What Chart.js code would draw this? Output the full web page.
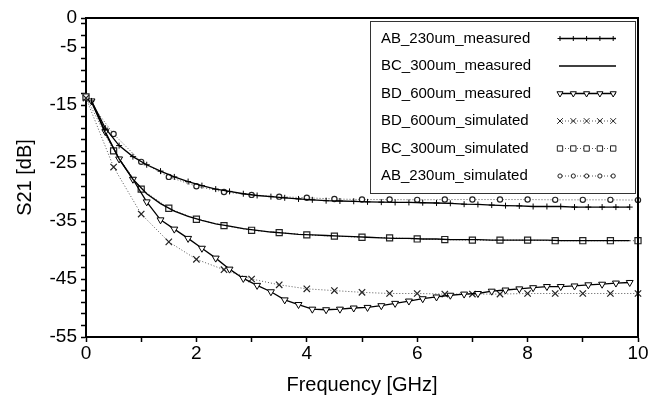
<!DOCTYPE html>
<html>
<head>
<meta charset="utf-8">
<script src="https://cdn.jsdelivr.net/npm/chart.js@4/dist/chart.umd.min.js"></script>
<style>body{margin:0;background:#fff}</style>
</head>
<body>
<canvas id="myChart" width="663" height="404"></canvas>
<script>

// frequency grids [GHz]
var measFreq = [0.1, 0.35, 0.6, 0.85, 1.1, 1.35, 1.6, 1.85, 2.1, 2.35, 2.6, 2.85, 3.1, 3.35, 3.6, 3.85,
    4.1, 4.35, 4.6, 4.85, 5.1, 5.35, 5.6, 5.85, 6.1, 6.35, 6.6, 6.85, 7.1, 7.35, 7.6, 7.85,
    8.1, 8.35, 8.6, 8.85, 9.1, 9.35, 9.6, 9.85];
var simFreq = [0, 0.5, 1, 1.5, 2, 2.5, 3, 3.5, 4, 4.5, 5, 5.5, 6, 6.5, 7, 7.5, 8, 8.5, 9, 9.5, 10];

// S21 [dB]
var abMeasured = [-14.3, -19.0, -22.0, -23.9, -25.3, -26.4, -27.4, -28.2, -28.9, -29.5, -29.9, -30.3, -30.6, -30.8, -31.0, -31.2,
    -31.35, -31.5, -31.55, -31.6, -31.7, -31.75, -31.8, -31.8, -31.85, -31.9, -31.95, -32.1, -32.15, -32.25, -32.35, -32.4,
    -32.5, -32.5, -32.5, -32.6, -32.6, -32.6, -32.6, -32.6];
var bcMeasured = [-14.5, -19.8, -24.3, -27.8, -30.3, -32.0, -33.3, -34.2, -34.9, -35.5, -35.9, -36.3, -36.6, -36.9, -37.1, -37.3,
    -37.4, -37.5, -37.6, -37.7, -37.8, -37.9, -38.0, -38.0, -38.1, -38.1, -38.2, -38.2, -38.2, -38.3, -38.3, -38.3,
    -38.3, -38.3, -38.4, -38.4, -38.4, -38.4, -38.4, -38.4];
var bdMeasured = [-14.3, -19.6, -24.3, -27.8, -31.7, -34.8, -36.4, -38.0, -39.7, -41.4, -43.3, -44.9, -46.1, -47.2, -48.6, -49.4,
    -50.2, -50.3, -50.2, -50.0, -49.9, -49.6, -49.2, -48.8, -48.4, -48.1, -47.8, -47.6, -47.5, -47.1, -46.9, -46.7,
    -46.5, -46.3, -46.3, -46.2, -46.0, -45.9, -45.7, -45.6];
var bdSimulated = [-13.8, -25.7, -33.8, -38.6, -41.6, -43.4, -45.0, -46.0, -46.7, -47.0, -47.3, -47.5, -47.5, -47.6, -47.6, -47.6,
    -47.5, -47.5, -47.5, -47.5, -47.5];
var bcSimulated = [-13.6, -22.9, -29.5, -32.8, -34.7, -35.8, -36.6, -37.0, -37.4, -37.6, -37.8, -37.9, -38.1, -38.2, -38.3, -38.3,
    -38.3, -38.4, -38.4, -38.4, -38.4];
var abSimulated = [-13.6, -20.0, -24.8, -27.4, -29.0, -30.0, -30.5, -30.8, -31.0, -31.2, -31.3, -31.3, -31.35, -31.3, -31.3, -31.3,
    -31.3, -31.35, -31.35, -31.35, -31.4];

var xTicks = [0, 1, 2, 3, 4, 5, 6, 7, 8, 9, 10];
var xLabels = [0, 2, 4, 6, 8, 10];
var yTicks = [0, -1, -3, -5, -7, -9, -11, -13, -15, -17, -19, -21, -23, -25, -27, -29, -31, -33, -35,
    -37, -39, -41, -43, -45, -47, -49, -51, -53, -55];
var yLabels = [0, -5, -15, -25, -35, -45, -55];

var FONT = "'Liberation Sans', Arial, sans-serif";

function pairs(xs, ys) {
    return xs.map(function (x, i) { return { x: x, y: ys[i] }; });
}

function measured(label, ys, style, radius, rotation) {
    return {
        label: label,
        data: pairs(measFreq, ys),
        borderColor: '#000',
        borderWidth: 1.3,
        pointStyle: style,
        pointRadius: radius,
        pointRotation: rotation || 0,
        pointBorderColor: '#000',
        pointBackgroundColor: '#fff',
        pointBorderWidth: 1
    };
}

function simulated(label, ys, style, radius) {
    return {
        label: label,
        data: pairs(simFreq, ys),
        borderColor: '#555',
        borderWidth: 1,
        borderDash: [1, 2],
        pointStyle: style,
        pointRadius: radius,
        pointRotation: 0,
        pointBorderColor: '#222',
        pointBackgroundColor: '#fff',
        pointBorderWidth: 1.2
    };
}

// box legend with line samples, top right of the plot
var legendBox = {
    id: 'legendBox',
    afterDatasetsDraw: function (chart) {
        var ctx = chart.ctx;
        ctx.save();
        ctx.fillStyle = '#fff';
        ctx.fillRect(370, 21, 265, 172);
        ctx.strokeStyle = '#333';
        ctx.lineWidth = 1;
        ctx.strokeRect(370.5, 21.5, 265, 172);
        chart.data.datasets.forEach(function (ds, i) {
            var y = 38.5 + i * 27.5;
            ctx.fillStyle = '#000';
            ctx.font = '15px ' + FONT;
            ctx.textAlign = 'left';
            ctx.textBaseline = 'middle';
            ctx.fillText(ds.label, 381, y);
            ctx.strokeStyle = ds.borderColor;
            ctx.lineWidth = ds.borderWidth;
            ctx.setLineDash(ds.borderDash || []);
            ctx.beginPath();
            ctx.moveTo(559, y);
            ctx.lineTo(616, y);
            ctx.stroke();
            ctx.setLineDash([]);
            if (ds.pointRadius > 0) {
                ctx.fillStyle = '#fff';
                ctx.strokeStyle = ds.pointBorderColor;
                ctx.lineWidth = 1;
                for (var k = 0; k < 5; k++) {
                    Chart.helpers.drawPoint(ctx, {
                        pointStyle: ds.pointStyle,
                        rotation: ds.pointRotation,
                        radius: ds.pointRadius - 0.5,
                        borderWidth: 1
                    }, 560 + k * 13.3, y);
                }
            }
        });
        ctx.restore();
    }
};

// top and right edges of the plot box
var frame = {
    id: 'frame',
    afterDraw: function (chart) {
        var a = chart.chartArea, ctx = chart.ctx;
        ctx.save();
        ctx.strokeStyle = '#000';
        ctx.lineWidth = 2;
        ctx.beginPath();
        ctx.moveTo(a.left, a.top);
        ctx.lineTo(a.right, a.top);
        ctx.lineTo(a.right, a.bottom);
        ctx.stroke();
        ctx.restore();
    }
};

var chartId = document.getElementById('myChart').getContext('2d');

var myChart = new Chart(chartId, {
    type: 'line',
    data: {
        datasets: [
            measured('AB_230um_measured', abMeasured, 'cross', 3),
            measured('BC_300um_measured', bcMeasured, 'circle', 0),
            measured('BD_600um_measured', bdMeasured, 'triangle', 4, 180),
            simulated('BD_600um_simulated', bdSimulated, 'crossRot', 4.5),
            simulated('BC_300um_simulated', bcSimulated, 'rect', 4.3),
            simulated('AB_230um_simulated', abSimulated, 'circle', 2.6)
        ]
    },
    options: {
        responsive: false,
        animation: false,
        devicePixelRatio: 1,
        clip: false,
        layout: { padding: { left: 0, top: 18, right: 25, bottom: 0 } },
        elements: { line: { tension: 0 } },
        plugins: {
            legend: { display: false },
            tooltip: { enabled: false }
        },
        scales: {
            x: {
                type: 'linear',
                min: 0,
                max: 10,
                afterBuildTicks: function (s) { s.ticks = xTicks.map(function (v) { return { value: v }; }); },
                afterFit: function (s) { s.height = 67; },
                border: { color: '#000', width: 2 },
                grid: { drawOnChartArea: false, drawTicks: true, tickLength: 5, tickColor: '#000', tickWidth: 1.5 },
                ticks: {
                    autoSkip: false,
                    maxRotation: 0,
                    padding: 0,
                    color: '#000',
                    font: { family: FONT, size: 19 },
                    callback: function (v) { return xLabels.indexOf(v) >= 0 ? String(v) : ''; }
                },
                title: {
                    display: true,
                    text: 'Frequency [GHz]',
                    color: '#000',
                    font: { family: FONT, size: 20 },
                    padding: { top: 0, bottom: 7 }
                }
            },
            y: {
                type: 'linear',
                min: -55,
                max: 0,
                afterBuildTicks: function (s) { s.ticks = yTicks.map(function (v) { return { value: v }; }); },
                afterFit: function (s) { s.width = 86; },
                border: { color: '#000', width: 2 },
                grid: { drawOnChartArea: false, drawTicks: true, tickLength: 5, tickColor: '#000', tickWidth: 1.5 },
                ticks: {
                    autoSkip: false,
                    padding: 4,
                    color: '#000',
                    font: { family: FONT, size: 19 },
                    callback: function (v) { return yLabels.indexOf(v) >= 0 ? String(v) : ''; }
                },
                title: {
                    display: true,
                    text: 'S21 [dB]',
                    color: '#000',
                    font: { family: FONT, size: 20 },
                    padding: { top: 13, bottom: 0 }
                }
            }
        }
    },
    plugins: [legendBox, frame]
});

</script>
</body>
</html>
